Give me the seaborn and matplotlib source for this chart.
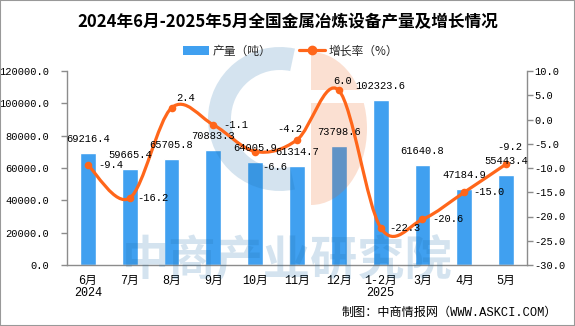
import numpy as np
import pandas as pd
import matplotlib
matplotlib.use("Agg")
import matplotlib.pyplot as plt
import seaborn as sns
from matplotlib.patches import Wedge, Rectangle, Patch, PathPatch
from matplotlib.lines import Line2D
from matplotlib.path import Path
from matplotlib.transforms import Affine2D
from matplotlib.ticker import FormatStrFormatter, FixedLocator

# ---------------- data ----------------
months = ["6月", "7月", "8月", "9月", "10月", "11月", "12月", "1-2月", "3月", "4月", "5月"]
years = ["2024", "", "", "", "", "", "", "2025", "", "", ""]
output = [69216.4, 59665.4, 65705.8, 70883.3, 64005.9, 61314.7, 73798.6,
          102323.6, 61640.8, 47184.9, 55443.4]
growth = [-9.4, -16.2, 2.4, -1.1, -6.6, -4.2, 6.0, -22.3, -20.6, -15.0, -9.2]
title = "2024年6月-2025年5月全国金属冶炼设备产量及增长情况"
source = "制图：中商情报网（WWW.ASKCI.COM）"

# ---------------- style ----------------
BLUE = "#40A0F0"
ORANGE = "#FF661A"
GRAY = "#8c8c8c"
WM_BLUE = (30 / 255, 110 / 255, 170 / 255)
WM_ORANGE = (239 / 255, 92 / 255, 18 / 255)
WM_ALPHA = 0.19

# label offsets in pixels (dx, dy, ha) for the growth labels
growth_label_style = [(10, 0, "left"), (8, 0, "left"), (5, 10, "left"), (10, 0, "left"),
                      (7, -15, "left"), (-7, 11, "center"), (4, 9, "center"),
                      (9, 0, "left"), (10, 0, "left"), (9, 0, "left"), (4, 17, "center")]

sns.set_theme(style="white")
plt.rcParams["font.family"] = ["Liberation Mono", "Noto Sans CJK SC", "DejaVu Sans"]
plt.rcParams["axes.unicode_minus"] = False

W, H = 575, 326
fig = plt.figure(figsize=(W / 100, H / 100), dpi=100)
fig.patch.set_facecolor("white")

L, R, T, B = 67, 527, 71, 265
ax = fig.add_axes([L / W, (H - B) / H, (R - L) / W, (B - T) / H])
n = len(months)
df = pd.DataFrame({"pos": np.arange(n), "output": output, "growth": growth})

sns.barplot(data=df, x="pos", y="output", ax=ax, color=BLUE, saturation=1,
            width=0.38, zorder=2)
ax.set_xlim(-0.5, n - 0.5)
ax.set_ylim(0, 120000)
ax.set_xlabel("")
ax.set_ylabel("")
ax.set_yticks(np.arange(0, 120001, 20000))
ax.yaxis.set_major_formatter(FormatStrFormatter("%.1f"))
ax.set_xticks(np.arange(n))
ax.set_xticklabels([m + ("\n" + y if y else "") for m, y in zip(months, years)])
for t in ax.get_xticklabels():
    t.set_linespacing(1.0)
ax.xaxis.set_minor_locator(FixedLocator(np.arange(-0.5, n, 1.0)))
ax.tick_params(axis="x", which="major", length=0, pad=7, labelsize=8.5, colors="black")
ax.tick_params(axis="x", which="minor", length=5, width=1, color=GRAY, direction="out")
ax.tick_params(axis="y", which="major", length=4, width=1, color=GRAY, direction="out",
               pad=9, labelsize=7.5, labelcolor="black", left=True)
for s in ["top", "right"]:
    ax.spines[s].set_visible(False)
for s in ["left", "bottom"]:
    ax.spines[s].set_color(GRAY)
    ax.spines[s].set_linewidth(1)
ax.grid(False)

# secondary axis
ax2 = ax.twinx()
ax2.set_zorder(1)
ax2.patch.set_visible(False)
ax2.set_ylim(-30, 10)
ax2.set_yticks(np.arange(-30, 10.1, 5))
ax2.yaxis.set_major_formatter(FormatStrFormatter("%.1f"))
ax2.tick_params(axis="y", length=4, width=1, color=GRAY, direction="out", pad=1.5,
                labelsize=7.5, labelcolor="black", right=True)
for s in ["top", "left", "bottom"]:
    ax2.spines[s].set_visible(False)
ax2.spines["right"].set_color(GRAY)
ax2.spines["right"].set_linewidth(1)
ax2.grid(False)

# smooth line (Catmull-Rom as Bezier path built from the data points)
P = np.column_stack([df["pos"].to_numpy(dtype=float), df["growth"].to_numpy(dtype=float)])
verts = [tuple(P[0])]
codes = [Path.MOVETO]
for i in range(n - 1):
    p0 = P[i - 1] if i > 0 else P[i]
    p1, p2 = P[i], P[i + 1]
    p3 = P[i + 2] if i + 2 < n else P[i + 1]
    verts += [tuple(p1 + (p2 - p0) / 6), tuple(p2 - (p3 - p1) / 6), tuple(p2)]
    codes += [Path.CURVE4] * 3
ax2.add_patch(PathPatch(Path(verts, codes), fill=False, edgecolor=ORANGE, lw=2.3,
                        zorder=4, capstyle="round", joinstyle="round"))
sns.scatterplot(data=df, x="pos", y="growth", ax=ax2, color=ORANGE, s=30,
                edgecolor=ORANGE, linewidth=0, zorder=5, legend=False)
ax2.set_xlim(-0.5, n - 0.5)
ax2.set_ylabel("")

# data labels (drawn on top of the watermark)
for i, v in enumerate(output):
    ax2.annotate(f"{v:.1f}", xy=(i, v), xycoords=ax.transData, textcoords="offset pixels",
                 xytext=(0, 14), ha="center", va="center", fontsize=7.5, color="black",
                 zorder=6)
for i, v in enumerate(growth):
    dx, dy, ha = growth_label_style[i]
    ax2.annotate(f"{v:.1f}", xy=(i, v), textcoords="offset pixels", xytext=(dx, dy),
                 ha=ha, va="center", fontsize=7.5, color="black", zorder=6)

# watermark overlay
axo = fig.add_axes([0, 0, 1, 1])
axo.set_zorder(0.5)
axo.patch.set_visible(False)
axo.set_xlim(0, W)
axo.set_ylim(H, 0)
axo.axis("off")
axo.add_patch(Wedge((280, 119), 72, 78, 282, width=23, facecolor=WM_BLUE, alpha=WM_ALPHA,
                    edgecolor="none"))
half = Affine2D().scale(56, 76.5).translate(311, 128.5) + axo.transData
for (y0, y1) in [(0, 90), (103, 330)]:
    clip = Rectangle((300, y0), 100, y1 - y0, transform=axo.transData)
    w = Wedge((0, 0), 1, -90, 90, facecolor=WM_ORANGE, alpha=WM_ALPHA, edgecolor="none",
              transform=half)
    axo.add_patch(w)
    w.set_clip_path(clip)
axo.text(287, 260, "中商产业研究院", ha="center", va="center", fontsize=34,
         fontweight="bold", color=WM_BLUE, alpha=WM_ALPHA, family=["Noto Sans CJK SC"])

# title, legend, source
fig.text(0.5, (H - 22) / H, title, ha="center", va="center", fontsize=12,
         fontweight="bold", family=["Noto Sans CJK SC", "DejaVu Sans"], color="black")
handles = [Patch(facecolor=BLUE, edgecolor="none", label="产量（吨）"),
           Line2D([], [], color=ORANGE, lw=2.3, marker="o", ms=6, label="增长率（%）")]
fig.legend(handles=handles, loc="center", bbox_to_anchor=(290.5 / W, (H - 51) / H),
           ncol=2, frameon=False, prop=dict(family=["Noto Sans CJK SC"], size=8.5),
           handlelength=2.2, handletextpad=0.3, columnspacing=2.4, borderpad=0)
fig.text(557 / W, (H - 313) / H, source, ha="right", va="center", fontsize=8.7,
         family=["Liberation Mono", "Noto Sans CJK SC"], color="black")

fig.add_artist(Rectangle((0, 0), 1, 1, transform=fig.transFigure, fill=False,
                         edgecolor="#999999", lw=1.5))

fig.savefig("out.png", dpi=100)
